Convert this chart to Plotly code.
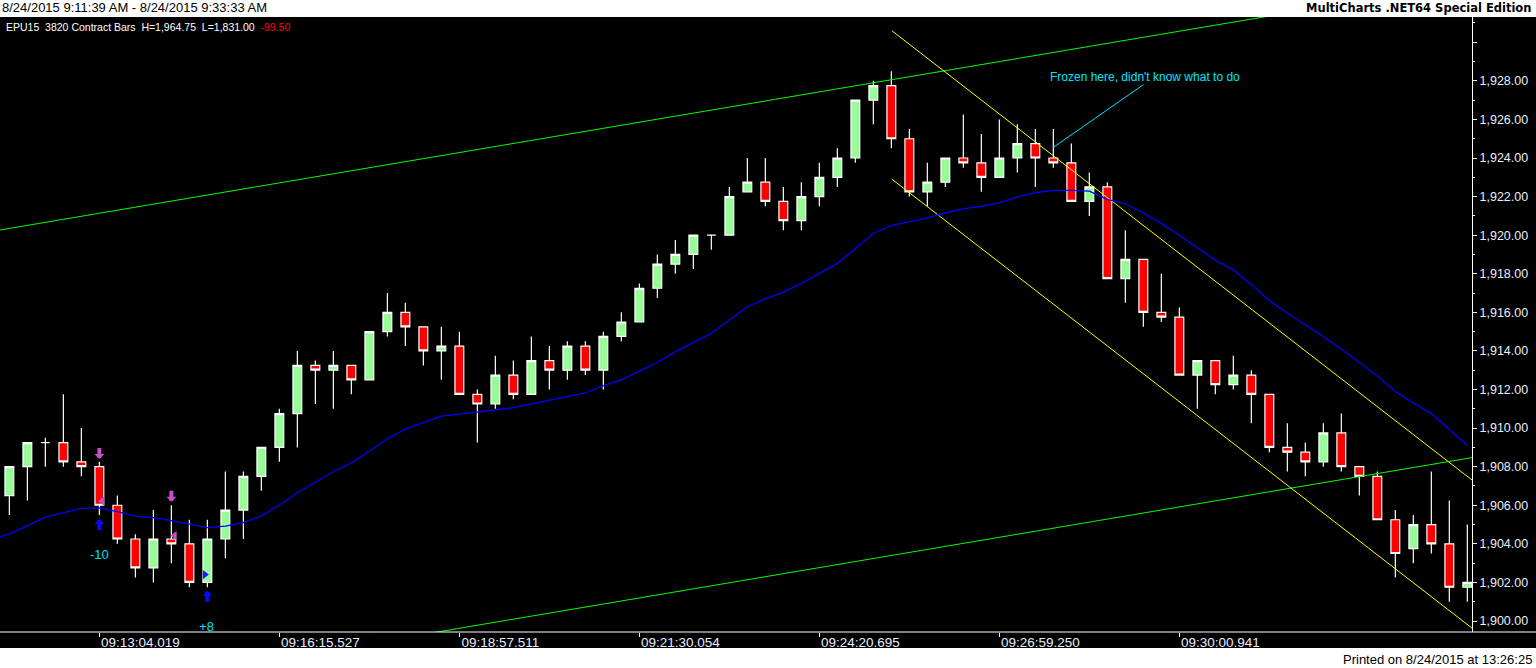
import plotly.graph_objects as go

# ---------------- data ----------------
bar_index = list(range(82))
opens = [1906.5, 1908.0, 1909.25, 1909.25, 1908.25, 1908.0, 1906.0, 1904.25, 1902.75, 1904.25,
         1904.0, 1902.0, 1904.25, 1905.75, 1907.5, 1909.0, 1910.75, 1913.25, 1913.0, 1913.25,
         1912.5, 1915.0, 1916.0, 1915.25, 1914.0, 1914.25, 1911.75, 1911.25, 1912.75, 1911.75,
         1913.5, 1913.0, 1914.25, 1913.0, 1914.75, 1915.5, 1917.25, 1918.5, 1919.0, 1920.0,
         1920.0, 1922.25, 1922.75, 1921.75, 1920.75, 1922.0, 1923.0, 1924.0, 1927.0, 1927.75,
         1925.0, 1922.25, 1922.75, 1924.0, 1923.75, 1923.0, 1924.0, 1924.75, 1924.0, 1923.75,
         1921.75, 1922.5, 1917.75, 1918.75, 1916.0, 1915.75, 1912.75, 1913.5, 1912.25, 1912.75,
         1911.75, 1909.0, 1908.75, 1908.25, 1909.75, 1908.0, 1907.5, 1905.25, 1903.75, 1905.0,
         1904.0, 1901.75]
highs = [1908.0, 1909.25, 1909.5, 1911.75, 1910.0, 1908.25, 1906.5, 1904.5, 1905.75, 1906.0,
         1905.25, 1905.25, 1907.75, 1907.75, 1909.0, 1911.0, 1914.0, 1913.5, 1914.0, 1913.25,
         1915.0, 1917.0, 1916.5, 1915.25, 1915.25, 1915.0, 1912.0, 1913.75, 1913.5, 1914.75,
         1914.25, 1914.5, 1914.5, 1915.0, 1916.0, 1917.5, 1919.0, 1919.75, 1920.0, 1920.0,
         1922.5, 1924.0, 1924.0, 1922.5, 1922.75, 1923.75, 1924.5, 1927.0, 1928.0, 1928.5,
         1925.5, 1923.75, 1924.0, 1926.25, 1925.25, 1926.0, 1925.75, 1925.5, 1925.5, 1924.75,
         1923.25, 1922.75, 1920.25, 1918.75, 1918.0, 1916.25, 1913.5, 1913.5, 1913.75, 1913.0,
         1911.75, 1910.25, 1909.25, 1910.25, 1910.75, 1908.0, 1907.75, 1905.75, 1905.5, 1907.75,
         1906.25, 1905.0]
lows = [1905.5, 1906.25, 1908.0, 1908.0, 1907.5, 1905.5, 1904.0, 1902.25, 1902.0, 1903.0,
        1901.75, 1901.75, 1903.25, 1904.25, 1906.75, 1908.25, 1909.0, 1911.25, 1911.0, 1911.75,
        1912.5, 1914.75, 1914.25, 1913.25, 1912.5, 1911.75, 1909.25, 1911.0, 1911.5, 1911.75,
        1912.0, 1912.5, 1912.75, 1912.0, 1914.5, 1915.5, 1916.75, 1918.0, 1918.25, 1919.25,
        1920.0, 1922.25, 1921.5, 1920.25, 1920.25, 1921.5, 1922.5, 1923.75, 1925.75, 1924.5,
        1922.0, 1921.5, 1922.5, 1923.5, 1922.25, 1923.0, 1923.25, 1922.5, 1923.5, 1921.75,
        1921.0, 1917.75, 1916.5, 1915.25, 1915.5, 1912.75, 1911.0, 1911.75, 1912.0, 1910.25,
        1908.75, 1907.75, 1907.5, 1908.0, 1907.75, 1906.5, 1905.25, 1902.25, 1903.0, 1903.5,
        1901.0, 1901.0]
closes = [1908.0, 1909.25, 1909.25, 1908.25, 1908.0, 1906.0, 1904.25, 1902.75, 1904.25, 1904.0,
          1902.0, 1904.25, 1905.75, 1907.5, 1909.0, 1910.75, 1913.25, 1913.0, 1913.25, 1912.5,
          1915.0, 1916.0, 1915.25, 1914.0, 1914.25, 1911.75, 1911.25, 1912.75, 1911.75, 1913.5,
          1913.0, 1914.25, 1913.0, 1914.75, 1915.5, 1917.25, 1918.5, 1919.0, 1920.0, 1920.0,
          1922.0, 1922.75, 1921.75, 1920.75, 1922.0, 1923.0, 1924.0, 1927.0, 1927.75, 1925.0,
          1922.25, 1922.75, 1924.0, 1923.75, 1923.0, 1924.0, 1924.75, 1924.0, 1923.75, 1921.75,
          1922.5, 1917.75, 1918.75, 1916.0, 1915.75, 1912.75, 1913.5, 1912.25, 1912.75, 1911.75,
          1909.0, 1908.75, 1908.25, 1909.75, 1908.0, 1907.5, 1905.25, 1903.5, 1905.0, 1904.0,
          1901.75, 1902.0]

ma_bars = list(range(-1, 82))
ma_values = [1904.25, 1904.5, 1904.94, 1905.38, 1905.61, 1905.84, 1905.86, 1905.67, 1905.44, 1905.36,
             1905.2, 1905.03, 1904.84, 1904.92, 1905.1, 1905.45, 1906.0, 1906.65, 1907.2, 1907.75,
             1908.2, 1908.8, 1909.45, 1909.95, 1910.28, 1910.62, 1910.72, 1910.82, 1910.95, 1911.06,
             1911.25, 1911.45, 1911.62, 1911.82, 1912.2, 1912.5, 1912.95, 1913.4, 1913.95, 1914.45,
             1914.92, 1915.6, 1916.29, 1916.7, 1917.05, 1917.5, 1918.0, 1918.54, 1919.3, 1920.1,
             1920.5, 1920.7, 1920.9, 1921.15, 1921.38, 1921.5, 1921.68, 1921.98, 1922.2, 1922.32,
             1922.32, 1922.28, 1921.86, 1921.63, 1921.15, 1920.6, 1920.0, 1919.35, 1918.7, 1918.2,
             1917.45, 1916.6, 1915.95, 1915.34, 1914.75, 1914.1, 1913.4, 1912.7, 1911.9, 1911.3,
             1910.75, 1909.95, 1909.1]

time_tick_bars = [5, 15, 25, 35, 45, 55, 65]
time_tick_labels = ["09:13:04.019", "09:16:15.527", "09:18:57.511", "09:21:30.054",
                    "09:24:20.695", "09:26:59.250", "09:30:00.941"]
price_ticks = [1900, 1902, 1904, 1906, 1908, 1910, 1912, 1914, 1916, 1918, 1920,
               1922, 1924, 1926, 1928, 1930]
price_tick_labels = ["1,900.00", "1,902.00", "1,904.00", "1,906.00", "1,908.00", "1,910.00",
                     "1,912.00", "1,914.00", "1,916.00", "1,918.00", "1,920.00", "1,922.00",
                     "1,924.00", "1,926.00", "1,928.00", ""]

green_upper_x = [-0.52, 81.26]
green_upper_y = [1920.27, 1933.13]
green_lower_x = [-0.52, 81.26]
green_lower_y = [1895.61, 1908.47]
yellow_upper_x = [49.04, 81.26]
yellow_upper_y = [1930.59, 1907.31]
yellow_lower_x = [49.02, 81.26]
yellow_lower_y = [1922.91, 1899.63]
note_line_x = [58.0, 63.0]
note_line_y = [1924.55, 1927.8]
note_text = "Frozen here, didn't know what to do"

sell_arrow_bars = [5, 9]
sell_arrow_tips = [1908.4, 1906.18]
buy_arrow_bars = [5, 11]
buy_arrow_tips = [1905.29, 1901.57]
exit_tri_x = [5.15, 9.18]
exit_tri_y = [1906.22, 1904.43]
entry_tri_x = [10.86]
entry_tri_y = [1902.41]
pnl_x = [5.0, 10.96]
pnl_y = [1903.39, 1899.64]
pnl_text = ["-10", "+8"]

x_range = [-0.52, 81.26]
y_range = [1899.43, 1931.31]

ARIAL = "Liberation Sans, Arial, sans-serif"

# ---------------- figure ----------------
fig = go.Figure()

fig.add_trace(go.Scatter(x=green_upper_x, y=green_upper_y, mode="lines",
                         line=dict(color="#00ff00", width=1), hoverinfo="skip", showlegend=False))
fig.add_trace(go.Scatter(x=green_lower_x, y=green_lower_y, mode="lines",
                         line=dict(color="#00ff00", width=1), hoverinfo="skip", showlegend=False))
fig.add_trace(go.Scatter(x=yellow_upper_x, y=yellow_upper_y, mode="lines",
                         line=dict(color="#ffff00", width=1), hoverinfo="skip", showlegend=False))
fig.add_trace(go.Scatter(x=yellow_lower_x, y=yellow_lower_y, mode="lines",
                         line=dict(color="#ffff00", width=1), hoverinfo="skip", showlegend=False))
fig.add_trace(go.Scatter(x=ma_bars, y=ma_values, mode="lines",
                         line=dict(color="#0000ff", width=1.3), hoverinfo="skip", showlegend=False))

fig.add_trace(go.Candlestick(
    x=bar_index, open=opens, high=highs, low=lows, close=closes,
    increasing=dict(line=dict(color="#ffffff", width=1.2), fillcolor="#98fb98"),
    decreasing=dict(line=dict(color="#ffffff", width=1.2), fillcolor="#ff0000"),
    whiskerwidth=0, showlegend=False, hoverinfo="skip"))

fig.add_trace(go.Scatter(x=note_line_x, y=note_line_y, mode="lines",
                         line=dict(color="#00e5ff", width=1), hoverinfo="skip", showlegend=False))

fig.add_trace(go.Scatter(x=exit_tri_x, y=exit_tri_y, mode="markers",
                         marker=dict(symbol="triangle-left", size=8, color="#c84ec8"),
                         hoverinfo="skip", showlegend=False))
fig.add_trace(go.Scatter(x=entry_tri_x, y=entry_tri_y, mode="markers",
                         marker=dict(symbol="triangle-right", size=8, color="#1a1aff"),
                         hoverinfo="skip", showlegend=False))
fig.add_trace(go.Scatter(x=pnl_x, y=pnl_y, mode="text", text=pnl_text,
                         textfont=dict(family=ARIAL, size=13, color="#00e0f0"),
                         cliponaxis=False, hoverinfo="skip", showlegend=False))

# dummy trace for label axis
fig.add_trace(go.Scatter(x=[x_range[0]], y=[y_range[0]], xaxis="x2", mode="markers",
                         marker=dict(opacity=0), hoverinfo="skip", showlegend=False))

annotations = []
for b, t in zip(sell_arrow_bars, sell_arrow_tips):
    annotations.append(dict(x=b, y=t, xref="x", yref="y", text=" ", showarrow=True,
                            ax=0, ay=-12, arrowhead=1, arrowsize=0.42, arrowwidth=4,
                            arrowcolor="#c84ec8", standoff=0, borderpad=0,
                            font=dict(size=1)))
for b, t in zip(buy_arrow_bars, buy_arrow_tips):
    annotations.append(dict(x=b, y=t, xref="x", yref="y", text=" ", showarrow=True,
                            ax=0, ay=12, arrowhead=1, arrowsize=0.42, arrowwidth=4,
                            arrowcolor="#0a0aff", standoff=0, borderpad=0,
                            font=dict(size=1)))

annotations.append(dict(x=57.7, y=1928.2, xref="x", yref="y", text=note_text, showarrow=False,
                        xanchor="left", yanchor="middle",
                        font=dict(family=ARIAL, size=12, color="#00e5ff")))

nb = "\u00a0"
info = ("EPU15" + nb * 2 + "3820 Contract Bars" + nb * 2 + "H=1,964.75" + nb * 2 + "L=1,831.00"
        + nb * 2 + "<span style='color:#ff0000'>-99.50</span>")
annotations.append(dict(x=4 / 1472, y=(632 - 27) / 615, xref="paper", yref="paper", text=info,
                        showarrow=False, xanchor="left", yanchor="middle",
                        font=dict(family=ARIAL, size=10.5, color="#ffffff")))
annotations.append(dict(x=0, y=(632 - 8) / 615, xref="paper", yref="paper",
                        text="8/24/2015 9:11:39 AM - 8/24/2015 9:33:33 AM", showarrow=False,
                        xanchor="left", yanchor="middle",
                        font=dict(family=ARIAL, size=13, color="#000000")))
annotations.append(dict(x=1533 / 1472, y=(632 - 8) / 615, xref="paper", yref="paper",
                        text="<b>MultiCharts .NET64 Special Edition</b>", showarrow=False,
                        xanchor="right", yanchor="middle",
                        font=dict(family="DejaVu Sans, Verdana, sans-serif", size=11.5,
                                  color="#000000")))
annotations.append(dict(x=1534 / 1472, y=(632 - 659) / 615, xref="paper", yref="paper",
                        text="Printed on 8/24/2015 at 13:26:25", showarrow=False,
                        xanchor="right", yanchor="middle",
                        font=dict(family=ARIAL, size=13, color="#000000")))

shapes = [
    # white header band
    dict(type="rect", xref="paper", yref="paper", x0=-0.01, x1=1.05,
         y0=1.0, y1=(632 + 2) / 615, fillcolor="#ffffff", line=dict(width=0), layer="below"),
    # white footer band
    dict(type="rect", xref="paper", yref="paper", x0=-0.01, x1=1.05,
         y0=(632 - 670) / 615, y1=(632 - 648) / 615, fillcolor="#ffffff",
         line=dict(width=0), layer="below"),
    # bottom axis line spanning the full width
    dict(type="line", xref="paper", yref="paper", x0=0, x1=1536 / 1472, y0=0, y1=0,
         line=dict(color="#ffffff", width=1)),
]

fig.update_layout(
    template="none",
    width=1536, height=668,
    margin=dict(l=0, r=64, t=17, b=36, pad=0),
    paper_bgcolor="#000000", plot_bgcolor="#000000",
    showlegend=False,
    annotations=annotations,
    shapes=shapes,
    xaxis=dict(range=x_range, showgrid=False, zeroline=False, showline=False,
               rangeslider=dict(visible=False), tickmode="array", tickvals=time_tick_bars,
               ticks="outside", ticklen=4, tickcolor="#ffffff", tickwidth=1,
               showticklabels=False, automargin=False, fixedrange=True),
    xaxis2=dict(range=x_range, overlaying="x", side="bottom", anchor="y", showgrid=False,
                zeroline=False, showline=False, tickmode="array", tickvals=time_tick_bars,
                ticktext=time_tick_labels, ticks="", ticklabelshift=41,
                tickfont=dict(family=ARIAL, size=13.5, color="#e8eeff"), automargin=False),
    yaxis=dict(range=y_range, side="right", showgrid=False, zeroline=False, showline=True,
               linecolor="#ffffff", linewidth=1, tickmode="array", tickvals=price_ticks,
               ticktext=price_tick_labels, ticks="outside", ticklen=4, tickcolor="#ffffff",
               tickfont=dict(family=ARIAL, size=12.5, color="#e8eeff"),
               minor=dict(tickmode="linear", tick0=1899, dtick=2, ticks="outside", ticklen=2,
                          tickcolor="#ffffff", showgrid=False),
               automargin=False, fixedrange=True),
    boxgap=0.3,
)

fig.write_html("out.html", config={"displayModeBar": False},
               post_script="document.body.style.margin='0px';")
